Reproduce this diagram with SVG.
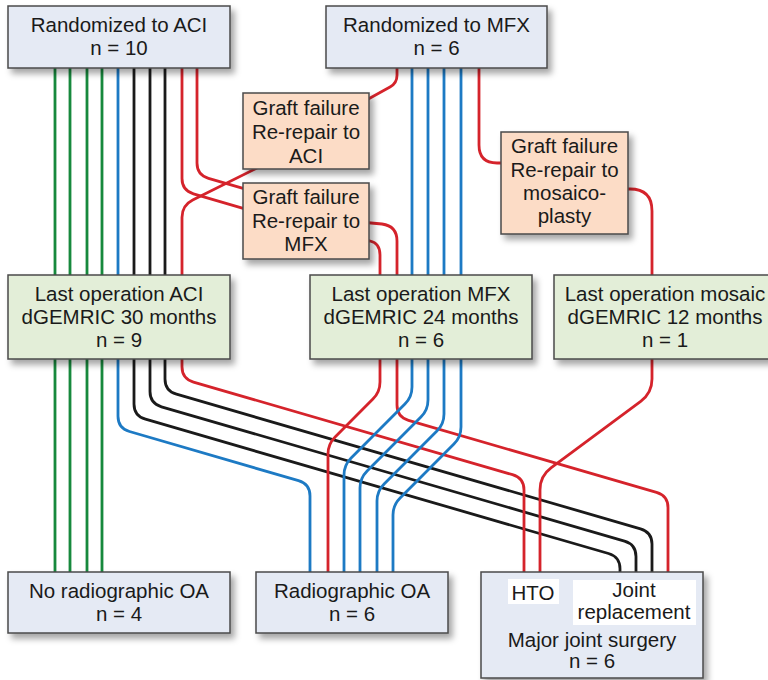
<svg xmlns="http://www.w3.org/2000/svg" width="768" height="680" viewBox="0 0 768 680">
<defs>
<filter id="sh" x="-10%" y="-10%" width="130%" height="140%">
<feDropShadow dx="4" dy="5" stdDeviation="3" flood-color="#000" flood-opacity="0.35"/>
</filter>
<style>
.b{stroke:#4a4a4a;stroke-width:1.5;filter:url(#sh)}
.bl{fill:#e5eaf4}
.pe{fill:#fcdcc6}
.gr{fill:#e3eed8}
text{font-family:"Liberation Sans",Arial,sans-serif;font-size:20.5px;fill:#1a1a1a;text-anchor:middle}
.c path{fill:none;stroke-width:2.8}
.g{stroke:#17893d}
.u{stroke:#1d7ac4}
.k{stroke:#1a1a1a}
.r{stroke:#d5232b}
</style>
</defs>
<rect width="768" height="680" fill="#fff"/>
<g id="connectors" class="c">
<path class="g" d="M55 66V572"/>
<path class="g" d="M70 66V572"/>
<path class="g" d="M87 66V572"/>
<path class="g" d="M102 66V572"/>
<path class="u" d="M118 66V416.2Q118 428.2 129.5 431.5L298.5 480.6Q310 483.9 310 495.9V572"/>
<path class="k" d="M134 66V403.9Q134 415.9 145.5 419.2L608.5 553.5Q620 556.8 620 568.8V572"/>
<path class="k" d="M150 66V391.5Q150 403.5 161.5 406.8L624.5 541.1Q636 544.4 636 556.4V572"/>
<path class="k" d="M165 66V378.9Q165 390.9 176.5 394.2L640.5 528.8Q652 532.1 652 544.1V572"/>
<path class="r" d="M182 66V178.6Q182 190.6 193.5 193.9L250 210.3"/>
<path class="r" d="M197 66V163Q197 175 208.5 178.3L250 190.3"/>
<path class="r" d="M265 164L192.7 200.1Q182 205.5 182 217.5V366.8Q182 378.8 193.5 382.1L512.5 474.7Q524 478 524 490V572"/>
<path class="r" d="M397 66V75.2Q397 83.2 390 87L362 102.4"/>
<path class="r" d="M479 66V145Q479 163 497 163L505 163"/>
<path class="r" d="M620 189L630 189Q652 189 652 211V379Q652 393 640.7 401.3L551.3 467.7Q540 476 540 490V572"/>
<path class="r" d="M360 222L382 224Q397 226 397 241V405.1Q397 417.1 408.5 420.4L656.5 492.4Q668 495.7 668 507.7V572"/>
<path class="r" d="M360 240L370 241Q380 243 380 255V382Q380 392 372.9 399.1L335.1 436.9Q328 444 328 454V572"/>
<path class="u" d="M412 66V387Q412 397 404.9 404.1L351.1 457.9Q344 465 344 475V572"/>
<path class="u" d="M428 66V400Q428 410 420.9 417.1L367.1 470.9Q360 478 360 488V572"/>
<path class="u" d="M444 66V414Q444 424 436.9 431.1L384.1 483.9Q377 491 377 501V572"/>
<path class="u" d="M461 66V427Q461 437 453.9 444.1L400.1 497.9Q393 505 393 515V572"/>
</g>
<g id="rand_aci"><rect class="b bl" x="8" y="6" width="222" height="62"/><text x="119" y="32">Randomized to ACI</text><text x="119" y="55">n = 10</text></g>
<g id="rand_mfx"><rect class="b bl" x="326" y="6" width="221" height="62"/><text x="436.5" y="32">Randomized to MFX</text><text x="436.5" y="55">n = 6</text></g>
<g id="graft_aci"><rect class="b pe" x="243" y="93" width="126" height="76"/><text x="306" y="115">Graft failure</text><text x="306" y="139">Re-repair to</text><text x="306" y="163">ACI</text></g>
<g id="graft_mfx"><rect class="b pe" x="243" y="183" width="126" height="76"/><text x="306" y="204">Graft failure</text><text x="306" y="228">Re-repair to</text><text x="306" y="251">MFX</text></g>
<g id="graft_mosaic"><rect class="b pe" x="501" y="132" width="127" height="102"/><text x="564.5" y="153">Graft failure</text><text x="564.5" y="177">Re-repair to</text><text x="564.5" y="200">mosaico-</text><text x="564.5" y="223">plasty</text></g>
<g id="last_aci"><rect class="b gr" x="8" y="275" width="222" height="84"/><text x="119" y="301">Last operation ACI</text><text x="119" y="324">dGEMRIC 30 months</text><text x="119" y="347">n = 9</text></g>
<g id="last_mfx"><rect class="b gr" x="310" y="275" width="222" height="84"/><text x="421" y="301">Last operation MFX</text><text x="421" y="324">dGEMRIC 24 months</text><text x="421" y="347">n = 6</text></g>
<g id="last_mosaic"><rect class="b gr" x="554" y="275" width="222" height="84"/><text x="665" y="301">Last operation mosaic</text><text x="665" y="324">dGEMRIC 12 months</text><text x="665" y="347">n = 1</text></g>
<g id="no_oa"><rect class="b bl" x="8" y="572" width="222" height="61"/><text x="119" y="598">No radiographic OA</text><text x="119" y="621">n = 4</text></g>
<g id="oa"><rect class="b bl" x="256" y="572" width="192" height="61"/><text x="352" y="598">Radiographic OA</text><text x="352" y="621">n = 6</text></g>
<g id="major"><rect class="b bl" x="481" y="572" width="222" height="106"/><rect x="508" y="579" width="51" height="25" fill="#fff"/><rect x="573" y="580" width="123" height="45" fill="#fff"/><text x="533" y="600">HTO</text><text x="634" y="597">Joint</text><text x="634" y="619">replacement</text><text x="592" y="647">Major joint surgery</text><text x="592" y="668">n = 6</text></g>
</svg>
